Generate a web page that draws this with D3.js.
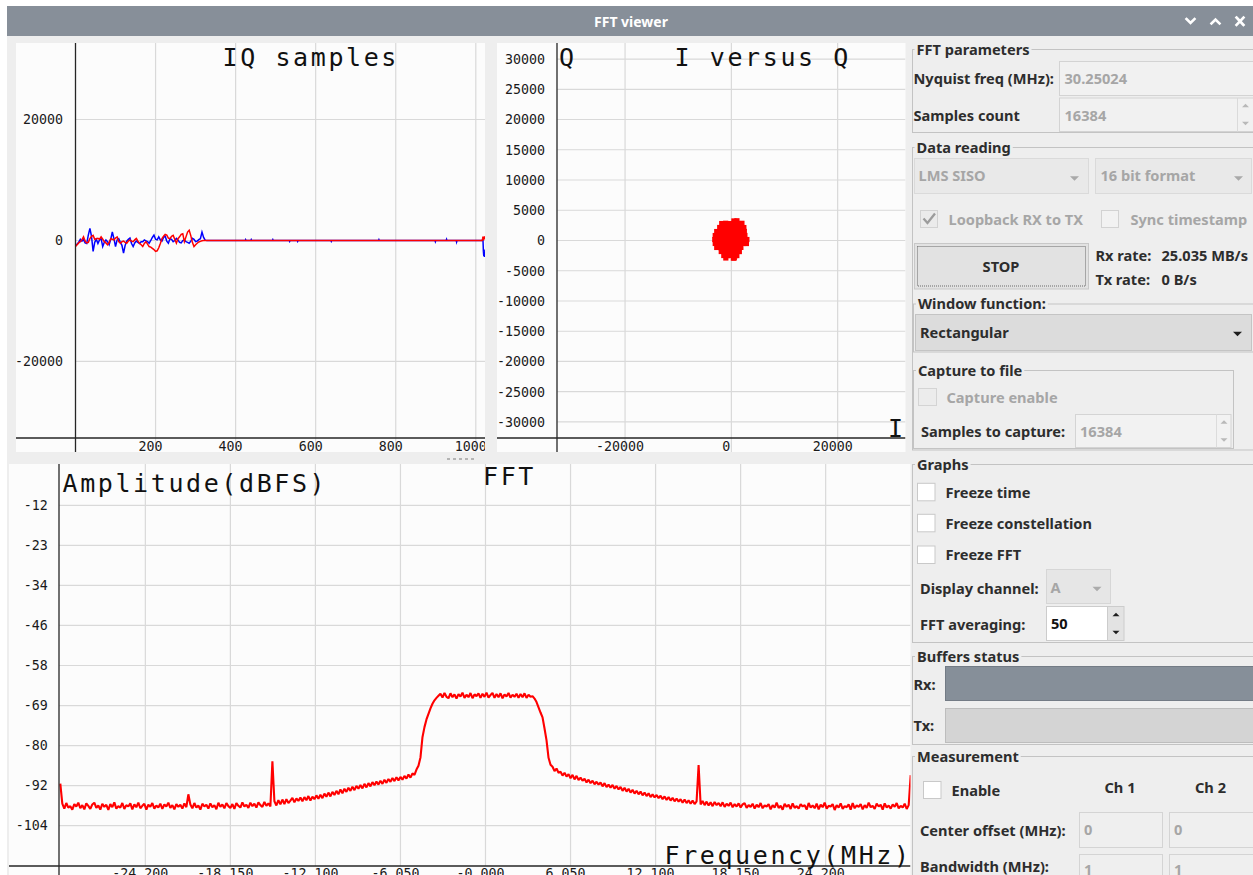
<!DOCTYPE html>
<html>
<head>
<meta charset="utf-8">
<title>FFT viewer</title>
<script src="https://cdn.jsdelivr.net/npm/d3@7"></script>
<style>
  html, body { margin: 0; padding: 0; background: #ffffff; }
  svg { display: block; }
</style>
</head>
<body>
<svg id="view" width="1253" height="875"></svg>
<script>
// ---------------- data ----------------
// Time-domain IQ samples (first part, every 4th sample from 0)
const headStep = 4;
const iHead = [-740, -600, -300, 200, -100, 150, -400, -500, 900, 2000, 700, -1800, -300, 200, -500, 100,
  300, -1000, -300, 100, -200, -700, 200, 1400, 300, -1000, 100, 300, -300, -800, -2100, -800, -100, 200,
  400, -500, -1000, -400, -100, -300, -500, -200, -200, 100, -50, -200, -450, 0, 500, 900, 200, 100, 600,
  100, -100, 500, 700, -100, -450, 300, 200, -200, 0, 350, 100, -300, -400, 0, 100, -200, -300, -450,
  -100, 350, 200, -200, -100, 150, 300, 1400, 500, 50, 0];
const qHead = [-1000, -700, -400, -200, 100, 600, -100, -400, -300, 300, 700, 850, 200, 300, 350, 200,
  600, 200, -200, -400, -700, -300, 300, 200, 100, 400, 600, -200, -450, -200, -100, -300, -450, -100,
  100, -100, -200, 100, 350, -100, -450, -700, -1000, -500, -200, -600, -1000, -1100, -1300, -1500,
  -1800, -1700, -1200, -500, 300, 700, 1000, 900, 400, 300, 700, 850, 200, -450, 300, 600, 1000, 1100,
  -200, 600, 1400, 1700, 800, -300, -1000, -700, -450, -250, -150, -50, 0, 0, 0];
// Remaining samples (sparse: the signal is idle apart from a few glitches)
const tailIndex = [332, 424, 425, 426, 438, 439, 440, 492, 493, 494, 534, 535, 536, 554, 555, 556,
  638, 639, 640, 757, 758, 759, 898, 899, 900, 926, 927, 928, 951, 952, 953,
  1016, 1017, 1018, 1019, 1020, 1021, 1022, 1023];
const tailI = [0, 0, 150, 0, 0, 150, 0, 0, 150, 0, 0, -150, 0, 0, -150, 0,
  0, -150, 0, 0, 150, 0, 0, -200, 0, 0, 200, 0, 0, -250, 0,
  0, 0, 0, -1800, -2600, -2400, -2700, -1500];
const tailQ = [0, 0, 0, 0, 0, 0, 0, 0, 0, 0, 0, 0, 0, 0, 0, 0,
  0, 0, 0, 0, 0, 0, 0, 0, 0, 0, 0, 0, 0, 0, 0,
  0, 300, 650, 400, 200, 300, 500, 700];
const sampleTicks = [200, 400, 600, 800, 1000];
const levelTicks = [20000, 0, -20000];

// Constellation (I, Q) points
const constI = [480, 1050, -1810, -1060, -300, 470, 1230, 1990, -2190, -1420, -680, 80, 850, 1600, 2350,
  -2750, -1990, -1240, -470, 290, 1030, 1790, 2440, -3030, -2270, -1520, -760, 0, 750, 1500, 2260, 2550,
  -3120, -2370, -1610, -850, -100, 660, 1410, 2170, 2920, -3030, -2270, -1520, -760, 0, 750, 1500, 2260,
  2830, -2750, -1990, -1230, -480, 280, 1030, 1790, -1900, -1140, -380, 370, 1040, 1500, -1420, -670, 90,
  750, 1030, -1040, 380, 560];
const constQ = [3230, 3260, 2800, 2850, 2790, 2830, 2810, 2840, 2150, 2180, 2140, 2170, 2150, 2190, 2140,
  1480, 1510, 1470, 1500, 1480, 1510, 1470, 1500, 820, 850, 810, 840, 820, 850, 810, 840, 830,
  160, 190, 150, 180, 160, 190, 150, 180, 160, -490, -510, -480, -520, -500, -480, -510, -490,
  -500, -1150, -1180, -1140, -1170, -1150, -1180, -1140, -1820, -1850, -1810, -1840, -1820, -1830, -2480, -2510, -2470,
  -2500, -2490, -2890, -2920, -2880];
const constTicksQ = [30000, 25000, 20000, 15000, 10000, 5000, 0, -5000, -10000, -15000, -20000, -25000, -30000];
const constTicksI = [-20000, 0, 20000];

// Averaged spectrum (dBFS), bins spread evenly from -Nyquist to +Nyquist
const nyquistMHz = 30.25024;
const spectrumDb = [
  -91.4,
  -97.2, -98.6, -97.0, -98.3, -97.9, -98.9, -97.3, -98.0, -96.9, -98.5,
  -97.6, -98.8, -97.1, -97.8, -98.7, -97.4, -96.9, -98.4, -97.7, -98.9,
  -97.2, -98.1, -97.5, -99.0, -97.3, -98.2, -96.8, -98.6, -97.9, -98.3,
  -97.0, -98.7, -97.6, -98.0, -97.1, -98.8, -97.4, -98.2, -96.9, -98.5,
  -97.8, -97.2, -98.9, -97.5, -98.1, -97.0, -98.6, -97.7, -98.3, -97.2,
  -98.7, -97.4, -98.0, -96.9, -98.4, -97.6, -98.8, -97.3, -98.1, -97.5,
  -98.6, -97.1, -98.2,
  -94.5,
  -97.4, -98.5, -97.0, -98.3, -97.7, -98.9, -97.2, -98.0, -97.5, -98.6,
  -97.1, -98.2, -97.6, -98.8, -96.9, -98.1, -97.4, -98.5, -97.0, -97.9,
  -98.4, -97.3, -98.7, -97.0, -97.8, -98.3, -96.8, -98.0, -97.5, -98.4,
  -96.9, -97.9, -97.2, -98.3, -96.8, -97.6, -98.1, -96.7, -97.8, -97.1, -98.0,
  -85.0,
  -96.5, -97.7, -96.2, -97.4, -96.0, -97.3, -95.9, -97.0, -96.3, -95.5, -96.8, -95.7, -96.4,
  -95.4, -96.5, -95.3, -96.2, -95.0, -96.3, -95.2, -95.9, -94.8, -95.8,
  -94.6, -95.6, -94.3, -95.2, -94.0, -95.1, -93.8, -94.7, -93.5, -94.5,
  -93.1, -94.2, -92.9, -93.8, -92.6, -93.5, -92.3, -93.3, -92.1, -92.9,
  -91.8, -92.8, -91.5, -92.5, -91.3, -92.2, -91.0, -91.9, -90.8, -91.7,
  -90.6, -91.5, -90.3, -91.2, -90.1, -90.9, -89.8, -90.7, -89.6, -90.5,
  -89.5, -90.3, -89.2, -90.0, -88.8, -89.7, -88.5, -88.9, -87.4, -86.3,
  -83.9, -78.1, -75.2, -73.0, -71.4, -69.8, -68.5, -67.5, -66.8, -66.2,
  -65.6, -66.7, -65.4, -66.5, -66.9, -65.5, -66.6, -65.8, -67.0, -65.7,
  -66.4, -65.3, -66.8, -65.9, -66.6, -65.4, -66.9, -65.8, -66.3, -65.5,
  -66.8, -65.6, -66.5, -65.3, -66.7, -66.0, -65.4, -66.8, -65.7, -66.6,
  -65.5, -66.9, -65.8, -66.4, -65.4, -66.7, -65.9, -66.5, -65.6, -66.8,
  -65.7, -66.6, -65.5, -66.8, -65.9, -66.5, -66.3,
  -67.0, -68.0, -69.5, -71.0, -72.4, -75.6, -79.0, -84.0, -86.0, -86.6, -87.8, -87.1, -88.3,
  -88.0, -89.1, -88.3, -89.4, -88.7, -89.9, -88.9, -90.2, -89.2, -90.4,
  -89.7, -90.6, -90.0, -91.1, -90.3, -91.3, -90.6, -91.6, -90.9, -91.7,
  -91.1, -92.2, -91.3, -92.4, -91.7, -92.6, -91.8, -92.9, -92.1, -93.1,
  -92.4, -93.5, -92.6, -93.7, -92.9, -94.0, -93.2, -94.3, -93.5, -94.5,
  -93.7, -94.8, -94.0, -95.0, -94.2, -95.3, -94.5, -95.4, -94.7, -95.6,
  -94.9, -95.9, -95.1, -96.1, -95.3, -96.3, -95.5, -96.5, -95.7, -96.6,
  -95.9, -96.9, -96.0, -97.0, -96.2, -97.2, -96.3, -97.3, -96.5,
  -86.1,
  -97.4, -96.4, -97.6, -96.6, -97.7, -96.8, -97.9, -96.7, -97.6, -97.0,
  -97.9, -96.8, -98.1, -97.2, -97.8, -96.9, -98.2, -97.3, -98.0, -97.1,
  -98.3, -97.4, -97.0, -98.4, -97.6, -98.1, -97.2, -98.6, -97.5, -98.2,
  -97.0, -98.5, -97.7, -98.0, -97.3, -98.8, -97.6, -98.3, -96.9, -98.4,
  -97.8, -98.9, -97.2, -98.1, -97.5, -98.7, -97.1, -98.4, -97.9, -98.6,
  -97.3, -98.0, -97.6, -98.9, -97.0, -98.3, -97.7, -98.5, -97.2, -98.8,
  -97.5, -98.2, -96.9, -98.6, -97.8, -98.0, -97.3, -99.0, -97.6, -98.3,
  -97.1, -98.7, -97.9, -98.2, -97.4, -98.9, -97.0, -98.5, -97.7, -98.1,
  -97.3, -98.8, -97.6, -98.4, -96.9, -98.2, -97.8, -98.7, -97.2, -98.0,
  -97.5, -98.9, -97.1, -98.3, -97.7, -98.6, -97.4, -98.1, -97.0, -98.5,
  -97.8, -98.3, -97.2, -98.7, -97.6, -89.0];
const freqTicks = [-24.2, -18.15, -12.1, -6.05, 0, 6.05, 12.1, 18.15, 24.2];
const freqTickLabels = ["-24.200", "-18.150", "-12.100", "-6.050", "-0.000", "6.050", "12.100", "18.150", "24.200"];
const dbTicks = [-11.5, -23, -34.5, -46, -57.5, -69, -80.5, -92, -103.5];
const dbTickLabels = ["-12", "-23", "-34", "-46", "-58", "-69", "-80", "-92", "-104"];

// ---------------- styles ----------------
const MONO = "'DejaVu Sans Mono', 'Liberation Mono', monospace";
const UI = "'Noto Sans', 'Open Sans', Roboto, sans-serif";
const gridCol = "#d9d9d9";
const axisCol = "#262626";
const plotBg = "#fcfcfc";
const winBg = "#eeeeee";

const svg = d3.select("#view");

// ---------------- window chrome ----------------
svg.append("rect").attr("width", 1253).attr("height", 875).attr("fill", "#ffffff");
svg.append("rect").attr("x", 7).attr("y", 6).attr("width", 1246).attr("height", 869).attr("fill", winBg);
svg.append("rect").attr("x", 7).attr("y", 6).attr("width", 1246).attr("height", 30).attr("fill", "#878f99");
svg.append("text").attr("x", 631).attr("y", 22).attr("dy", "0.35em")
  .attr("text-anchor", "middle").attr("font-family", UI).attr("font-weight", 700)
  .attr("font-size", 14).attr("fill", "#ffffff").text("FFT viewer");
const icons = svg.append("g").attr("fill", "none").attr("stroke", "#ffffff")
  .attr("stroke-width", 2.6).attr("stroke-linecap", "square");
icons.append("path").attr("d", "M1186.5,19 L1190.5,23 L1194.5,19");
icons.append("path").attr("d", "M1211.5,23.5 L1215.5,19.5 L1219.5,23.5");
icons.append("path").attr("d", "M1236.5,17.5 L1243.5,25 M1243.5,17.5 L1236.5,25");

// splitter grip between the upper plots and the spectrum
svg.append("g").selectAll("rect").data([447, 453, 459, 465, 471]).join("rect")
  .attr("x", d => d).attr("y", 458).attr("width", 3).attr("height", 2).attr("fill", "#b4b4b4");

function plotPanel(id, x0, y0, x1, y1) {
  svg.append("clipPath").attr("id", id).append("rect")
    .attr("x", x0).attr("y", y0).attr("width", x1 - x0).attr("height", y1 - y0);
  svg.append("rect").attr("x", x0).attr("y", y0).attr("width", x1 - x0).attr("height", y1 - y0)
    .attr("fill", plotBg);
  return svg.append("g").attr("clip-path", `url(#${id})`);
}

function bigText(g, x, y, s) {
  g.append("text").attr("x", x).attr("y", y).attr("font-family", MONO)
    .attr("font-size", 25).attr("letter-spacing", 2.6).attr("fill", "#111111").text(s);
}

function tickText(g, x, y, s, anchor) {
  g.append("text").attr("x", x).attr("y", y).attr("font-family", MONO)
    .attr("font-size", 13.3).attr("text-anchor", anchor).attr("fill", "#1a1a1a").text(s);
}

// ---------------- IQ samples ----------------
{
  const g = plotPanel("clipIQ", 16, 43, 485, 452);
  const x = d3.scaleLinear().domain([0, 1023]).range([75.5, 485]);
  const y = d3.scaleLinear().domain([-32768, 32767]).range([438.7, 42.3]);
  const axisY = 438;

  g.selectAll(".vg").data(sampleTicks).join("line")
    .attr("x1", d => x(d)).attr("x2", d => x(d)).attr("y1", 43).attr("y2", 452)
    .attr("stroke", gridCol).attr("stroke-width", 1.2);
  g.selectAll(".hg").data(levelTicks).join("line")
    .attr("x1", x(0)).attr("x2", 485).attr("y1", d => y(d)).attr("y2", d => y(d))
    .attr("stroke", gridCol).attr("stroke-width", 1.2);

  levelTicks.forEach(v => tickText(g, 63, y(v) + 4.8, String(v), "end"));
  sampleTicks.forEach(v => tickText(g, x(v) - 5, 451, String(v), "middle"));

  const headIdx = d3.range(0, iHead.length * headStep, headStep);
  const iSeries = headIdx.map((s, k) => ({ s, v: iHead[k] }))
    .concat(tailIndex.map((s, k) => ({ s, v: tailI[k] })));
  const qSeries = headIdx.map((s, k) => ({ s, v: qHead[k] }))
    .concat(tailIndex.map((s, k) => ({ s, v: tailQ[k] })));
  const line = d3.line().x(d => x(d.s)).y(d => y(d.v));
  g.append("path").attr("d", line(iSeries)).attr("fill", "none")
    .attr("stroke", "#0000ff").attr("stroke-width", 1.5);
  g.append("path").attr("d", line(qSeries)).attr("fill", "none")
    .attr("stroke", "#ff0000").attr("stroke-width", 1.5);

  g.append("line").attr("x1", x(0)).attr("x2", x(0)).attr("y1", 43).attr("y2", 452)
    .attr("stroke", axisCol).attr("stroke-width", 1.3);
  g.append("line").attr("x1", 16).attr("x2", 485).attr("y1", axisY).attr("y2", axisY)
    .attr("stroke", axisCol).attr("stroke-width", 1.3);

  bigText(g, 222.5, 66, "IQ samples");
}

// ---------------- I versus Q ----------------
{
  const g = plotPanel("clipIQc", 497, 43, 905.5, 452);
  const x = d3.scaleLinear().domain([-32768, 32767]).range([557.2, 905.5]);
  const y = d3.scaleLinear().domain([-32768, 32767]).range([438.7, 42.3]);
  const axisY = 438;

  g.selectAll(".vg").data(constTicksI).join("line")
    .attr("x1", d => x(d)).attr("x2", d => x(d)).attr("y1", 43).attr("y2", 452)
    .attr("stroke", gridCol).attr("stroke-width", 1.2);
  g.selectAll(".hg").data(constTicksQ).join("line")
    .attr("x1", x(-32768)).attr("x2", 905.5).attr("y1", d => y(d)).attr("y2", d => y(d))
    .attr("stroke", gridCol).attr("stroke-width", 1.2);

  constTicksQ.forEach(v => tickText(g, 545, y(v) + 4.8, String(v), "end"));
  constTicksI.forEach(v => tickText(g, x(v) - 5, 451, String(v), "middle"));

  const pts = constI.map((iv, k) => ({ i: iv, q: constQ[k] }));
  g.selectAll(".pt").data(pts).join("rect")
    .attr("x", d => x(d.i) - 2.6).attr("y", d => y(d.q) - 2.6)
    .attr("width", 5.2).attr("height", 5.2).attr("fill", "#ff0000");

  g.append("line").attr("x1", 557).attr("x2", 557).attr("y1", 43).attr("y2", 452)
    .attr("stroke", axisCol).attr("stroke-width", 1.3);
  g.append("line").attr("x1", 497).attr("x2", 905.5).attr("y1", axisY).attr("y2", axisY)
    .attr("stroke", axisCol).attr("stroke-width", 1.3);

  bigText(g, 559, 66, "Q");
  bigText(g, 674.5, 66, "I versus Q");
  bigText(g, 888, 437, "I");
}

// ---------------- FFT ----------------
{
  const g = plotPanel("clipFFT", 9, 464, 910.5, 875);
  const x = d3.scaleLinear().domain([-nyquistMHz, nyquistMHz]).range([60.3, 910.7]);
  const y = d3.scaleLinear().domain([-115, 0]).range([865.7, 465.3]);
  const axisX = 59, axisY = 866;

  g.selectAll(".vg").data(freqTicks).join("line")
    .attr("x1", d => x(d)).attr("x2", d => x(d)).attr("y1", 464).attr("y2", axisY)
    .attr("stroke", gridCol).attr("stroke-width", 1.2);
  g.selectAll(".hg").data(dbTicks).join("line")
    .attr("x1", axisX).attr("x2", 910.5).attr("y1", d => y(d)).attr("y2", d => y(d))
    .attr("stroke", gridCol).attr("stroke-width", 1.2);

  dbTicks.forEach((v, k) => tickText(g, 47.7, y(v) + 4.8, dbTickLabels[k], "end"));
  freqTicks.forEach((v, k) => tickText(g, x(v) - 5, 878, freqTickLabels[k], "middle"));

  const binStep = 2 * nyquistMHz / (spectrumDb.length - 1);
  const spec = spectrumDb.map((db, k) => ({ f: -nyquistMHz + k * binStep, db }));
  g.append("path")
    .attr("d", d3.line().x(d => x(d.f)).y(d => y(d.db))(spec))
    .attr("fill", "none").attr("stroke", "#ff0000").attr("stroke-width", 2.1)
    .attr("stroke-linejoin", "bevel");

  g.append("line").attr("x1", axisX).attr("x2", axisX).attr("y1", 464).attr("y2", 875)
    .attr("stroke", axisCol).attr("stroke-width", 1.3);
  g.append("line").attr("x1", 9).attr("x2", 910.5).attr("y1", axisY).attr("y2", axisY)
    .attr("stroke", axisCol).attr("stroke-width", 1.3);

  bigText(g, 62.5, 492, "Amplitude(dBFS)");
  bigText(g, 483, 485, "FFT");
  bigText(g, 664.5, 864, "Frequency(MHz)");
}

// ---------------- control panel ----------------
const ui = svg.append("g");
const frameCol = "#c3c3c3";
const txtCol = "#2d2d2d";
const offCol = "#a6a6a6";

function label(x, y, s, color, anchor) {
  return ui.append("text").attr("x", x).attr("y", y).attr("dy", "0.36em")
    .attr("font-family", UI).attr("font-weight", 700).attr("font-size", 14.6)
    .attr("text-anchor", anchor || "start").attr("fill", color || txtCol).text(s);
}
function box(x, y, w, h, fill, stroke) {
  return ui.append("rect").attr("x", x).attr("y", y).attr("width", w).attr("height", h)
    .attr("fill", fill).attr("stroke", stroke).attr("stroke-width", 1);
}
function frame(x, y, w, h, title, tx) {
  box(x, y, w, h, "none", frameCol);
  const t = label(tx, y, title);
  const len = t.node().getComputedTextLength();
  ui.insert("rect", () => t.node()).attr("x", tx - 2).attr("y", y - 2)
    .attr("width", len + 4).attr("height", 4).attr("fill", winBg);
}
function downArrow(cx, cy, color, w) {
  const h = w / 2;
  ui.append("path").attr("d", `M${cx - h},${cy - h / 2} L${cx + h},${cy - h / 2} L${cx},${cy + h / 2} Z`)
    .attr("fill", color);
}
function upArrow(cx, cy, color, w) {
  const h = w / 2;
  ui.append("path").attr("d", `M${cx - h},${cy + h / 2} L${cx + h},${cy + h / 2} L${cx},${cy - h / 2} Z`)
    .attr("fill", color);
}

// group frames
frame(912.5, 49.5, 400, 83, "FFT parameters", 916.5);
frame(912.5, 147.5, 400, 302.5, "Data reading", 916.5);
frame(913.5, 304, 400, 48, "Window function:", 918);
frame(913.5, 370.5, 320, 78, "Capture to file", 918);
frame(912.5, 464.5, 400, 178, "Graphs", 917);
frame(912.5, 656.5, 400, 88, "Buffers status", 917);
frame(912.5, 756.5, 400, 200, "Measurement", 917);

// FFT parameters
label(913.5, 79, "Nyquist freq (MHz):");
box(1059.5, 61.5, 200, 34, "#f1f1f1", "#d3d3d3");
label(1064.5, 79, "30.25024", offCol);
label(913.5, 116, "Samples count");
box(1059.5, 98, 200, 33.5, "#f1f1f1", "#d3d3d3");
ui.append("line").attr("x1", 1237.5).attr("x2", 1237.5).attr("y1", 98).attr("y2", 131.5).attr("stroke", "#dadada");
label(1064.5, 116, "16384", offCol);
upArrow(1245.5, 105.5, "#b9b9b9", 7);
downArrow(1245.5, 123.5, "#b9b9b9", 7);

// Data reading
box(914.5, 158.5, 174, 35, "#e9e9e9", "#dadada");
label(918.5, 176, "LMS SISO", offCol);
downArrow(1074.5, 178.5, "#a9a9a9", 9);
box(1095.5, 158.5, 156, 35, "#e9e9e9", "#dadada");
label(1100.5, 176, "16 bit format", offCol);
downArrow(1238.5, 178.5, "#a9a9a9", 9);

box(920.5, 210.5, 17, 17, "#ebebeb", "#d2d2d2");
ui.append("path").attr("d", "M923.5,218.5 L927.5,223 L935,213.5").attr("fill", "none")
  .attr("stroke", "#9c9c9c").attr("stroke-width", 2.3);
label(948.5, 219.5, "Loopback RX to TX", offCol);
box(1101.5, 210.5, 17, 17, "#f2f2f2", "#d2d2d2");
label(1130.5, 219.5, "Sync timestamp", offCol);

box(914.5, 243.5, 174, 45.5, "#e2e2e2", "#c8c8c8");
box(917.5, 246.5, 168, 39.5, "none", "#6a6a6a").attr("stroke-dasharray", "1,1");
label(1001, 267, "STOP", txtCol, "middle");
label(1095.5, 256, "Rx rate:");
label(1161.5, 256, "25.035 MB/s");
label(1095.5, 280, "Tx rate:");
label(1161.5, 280, "0 B/s");

box(915.5, 314.5, 336, 36, "#dcdcdc", "#c4c4c4");
label(920, 333, "Rectangular");
downArrow(1237.5, 334, "#1e1e1e", 9);

box(918.5, 388.5, 18, 17, "#ececec", "#d4d4d4");
label(946.5, 398, "Capture enable", offCol);
label(921, 432, "Samples to capture:");
box(1075.5, 414.5, 155.5, 33, "#f2f2f2", "#d4d4d4");
ui.append("line").attr("x1", 1216.5).attr("x2", 1216.5).attr("y1", 414.5).attr("y2", 447.5).attr("stroke", "#dcdcdc");
label(1080, 432, "16384", offCol);
upArrow(1224, 422, "#b9b9b9", 7);
downArrow(1224, 440, "#b9b9b9", 7);

// Graphs
[492.3, 523.3, 555].forEach(cy => box(917.5, cy - 9, 17.5, 17.5, "#ffffff", "#c9c9c9"));
label(945.5, 492.3, "Freeze time");
label(945.5, 523.3, "Freeze constellation");
label(945.5, 555, "Freeze FFT");
label(920, 588.3, "Display channel:");
box(1046.5, 569.5, 64, 34, "#e6e6e6", "#d6d6d6");
label(1050.5, 588, "A", offCol);
downArrow(1097, 589, "#ababab", 9);
label(920, 625, "FFT averaging:");
box(1046.5, 606.5, 61, 34, "#ffffff", "#cccccc");
box(1107.5, 606.5, 16.5, 34, "#e3e3e3", "#cccccc");
label(1051, 624, "50", "#111111");
upArrow(1116, 614.5, "#1e1e1e", 7);
downArrow(1116, 632.5, "#1e1e1e", 7);

// Buffers status
label(913.5, 685, "Rx:");
box(945.5, 666.5, 320, 34, "#868f99", "#737b85");
label(913.5, 726, "Tx:");
box(945.5, 708.5, 320, 34, "#d4d4d4", "#bdbdbd");

// Measurement
box(923.5, 781.5, 17.5, 17, "#ffffff", "#c9c9c9");
label(951.5, 790.7, "Enable");
label(1104.5, 787.3, "Ch 1");
label(1195, 787.3, "Ch 2");
label(920, 830.7, "Center offset (MHz):");
box(1079.5, 812.5, 83, 35, "#efefef", "#d4d4d4");
box(1169.5, 812.5, 90, 35, "#efefef", "#d4d4d4");
label(1084, 830, "0", offCol);
label(1174, 830, "0", offCol);
label(920, 866.7, "Bandwidth (MHz):");
box(1079.5, 854.5, 83, 35, "#efefef", "#d4d4d4");
box(1169.5, 854.5, 90, 35, "#efefef", "#d4d4d4");
label(1084, 870, "1", offCol);
label(1174, 870, "1", offCol);
</script>
</body>
</html>
